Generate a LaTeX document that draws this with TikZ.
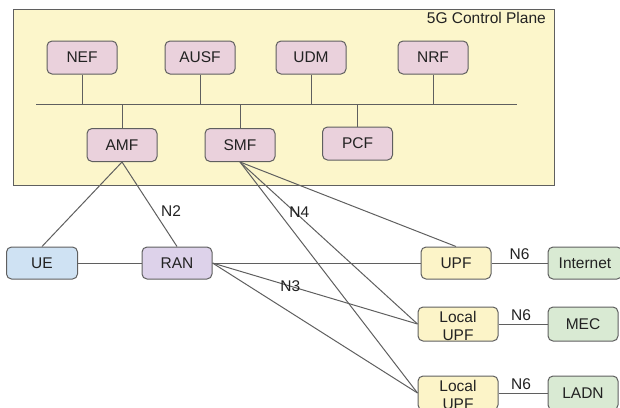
\documentclass[tikz,border=0pt]{standalone}
\usepackage{fontspec}
\setmainfont{Liberation Sans}
\definecolor{nfpink}{HTML}{EAD1DC}
\definecolor{cpyellow}{HTML}{FCF6CB}
\definecolor{upfyellow}{HTML}{FCF4C8}
\definecolor{uebl}{HTML}{CFE2F3}
\definecolor{ranpurple}{HTML}{DDD2EA}
\definecolor{dngreen}{HTML}{D9EAD3}
\definecolor{edge}{HTML}{5F5F5F}
\definecolor{ink}{HTML}{222222}
\begin{document}
\begin{tikzpicture}[x=1pt,y=-1pt,
  every node/.style={text=ink,font=\fontsize{15.5}{17.5}\selectfont},
  box/.style={draw=edge,line width=1pt,rounded corners=5pt,
    minimum width=70pt,minimum height=33pt,inner sep=0pt,align=center},
  nf/.style={box,fill=nfpink},
  upfbox/.style={box,fill=upfyellow},
  dnbox/.style={box,fill=dngreen},
  wire/.style={draw=edge,line width=1pt},
  lbl/.style={inner sep=1pt}]
\useasboundingbox (0,0) rectangle (620,407);

% control plane area
\draw[draw=edge,line width=1pt,fill=cpyellow] (13,9) rectangle (554,185);
\node[anchor=north east,inner sep=0pt] (cptitle) at (546,12) {5G Control Plane};

% service bus
\coordinate (busL) at (36,104);
\coordinate (busR) at (517,104);
\draw[wire] (busL) -- (busR);

% network functions
\node[nf] (NEF)  at (82,57.5)  {NEF};
\node[nf] (AUSF) at (200,57.5) {AUSF};
\node[nf] (UDM)  at (311,57.5) {UDM};
\node[nf] (NRF)  at (433,57.5) {NRF};
\node[nf] (AMF)  at (122,145)  {AMF};
\node[nf] (SMF)  at (240,145)  {SMF};
\node[nf] (PCF)  at (357.5,143.5) {PCF};

\foreach \n in {NEF,AUSF,UDM,NRF}
  \draw[wire] (\n.south) -- (\n.south |- busL);
\foreach \n in {AMF,SMF,PCF}
  \draw[wire] (\n.north) -- (\n.north |- busL);

% access and user plane
\node[box,fill=uebl,minimum width=71pt,minimum height=32pt] (UE) at (42,263) {UE};
\node[box,fill=ranpurple,minimum height=32pt] (RAN) at (177,263) {RAN};
\node[upfbox,minimum height=32pt] (UPF) at (456,263) {UPF};
\node[upfbox,minimum width=80pt,minimum height=34pt] (LUPFa) at (458,324) {};
\node[upfbox,minimum width=80pt,minimum height=34pt] (LUPFb) at (458,393) {};
\node[align=center,inner sep=0pt] (LUPFaText) at (458,326) {Local\\UPF};
\node[align=center,inner sep=0pt] (LUPFbText) at (458,395) {Local\\UPF};

% data networks
\node[dnbox,minimum width=74pt,minimum height=32pt] (INET) at (585,263) {Internet};
\node[dnbox,minimum height=34pt] (MEC) at (583,324) {MEC};
\node[dnbox,minimum height=34pt] (LADN) at (583,393) {LADN};

% connectors
\draw[wire] (AMF.south) -- (UE.north);
\draw[wire] (AMF.south) -- node[lbl,pos=0.576,anchor=west,xshift=6pt] (lN2) {N2} (RAN.north);
\draw[wire] (UE.east) -- (RAN.west);
\draw[wire] (RAN.east) -- (UPF.west);
\draw[wire] (RAN.east) -- node[lbl,pos=0.38] (lN3) {N3} (LUPFa.west);
\draw[wire] (RAN.east) -- (LUPFb.west);
\draw[wire] (SMF.south) -- (UPF.north);
\draw[wire] (SMF.south) -- node[lbl,pos=0.3,xshift=6pt,yshift=-2pt] (lN4) {N4} (LUPFa.west);
\draw[wire] (SMF.south) -- (LUPFb.west);
\draw[wire] (UPF.east) -- node[lbl,midway,above=2pt] (lN6a) {N6} (INET.west);
\draw[wire] (LUPFa.east) -- node[lbl,midway,above=2pt,xshift=-2pt] (lN6b) {N6} (MEC.west);
\draw[wire] (LUPFb.east) -- node[lbl,midway,above=2pt,xshift=-2pt] (lN6c) {N6} (LADN.west);
\end{tikzpicture}
\end{document}
